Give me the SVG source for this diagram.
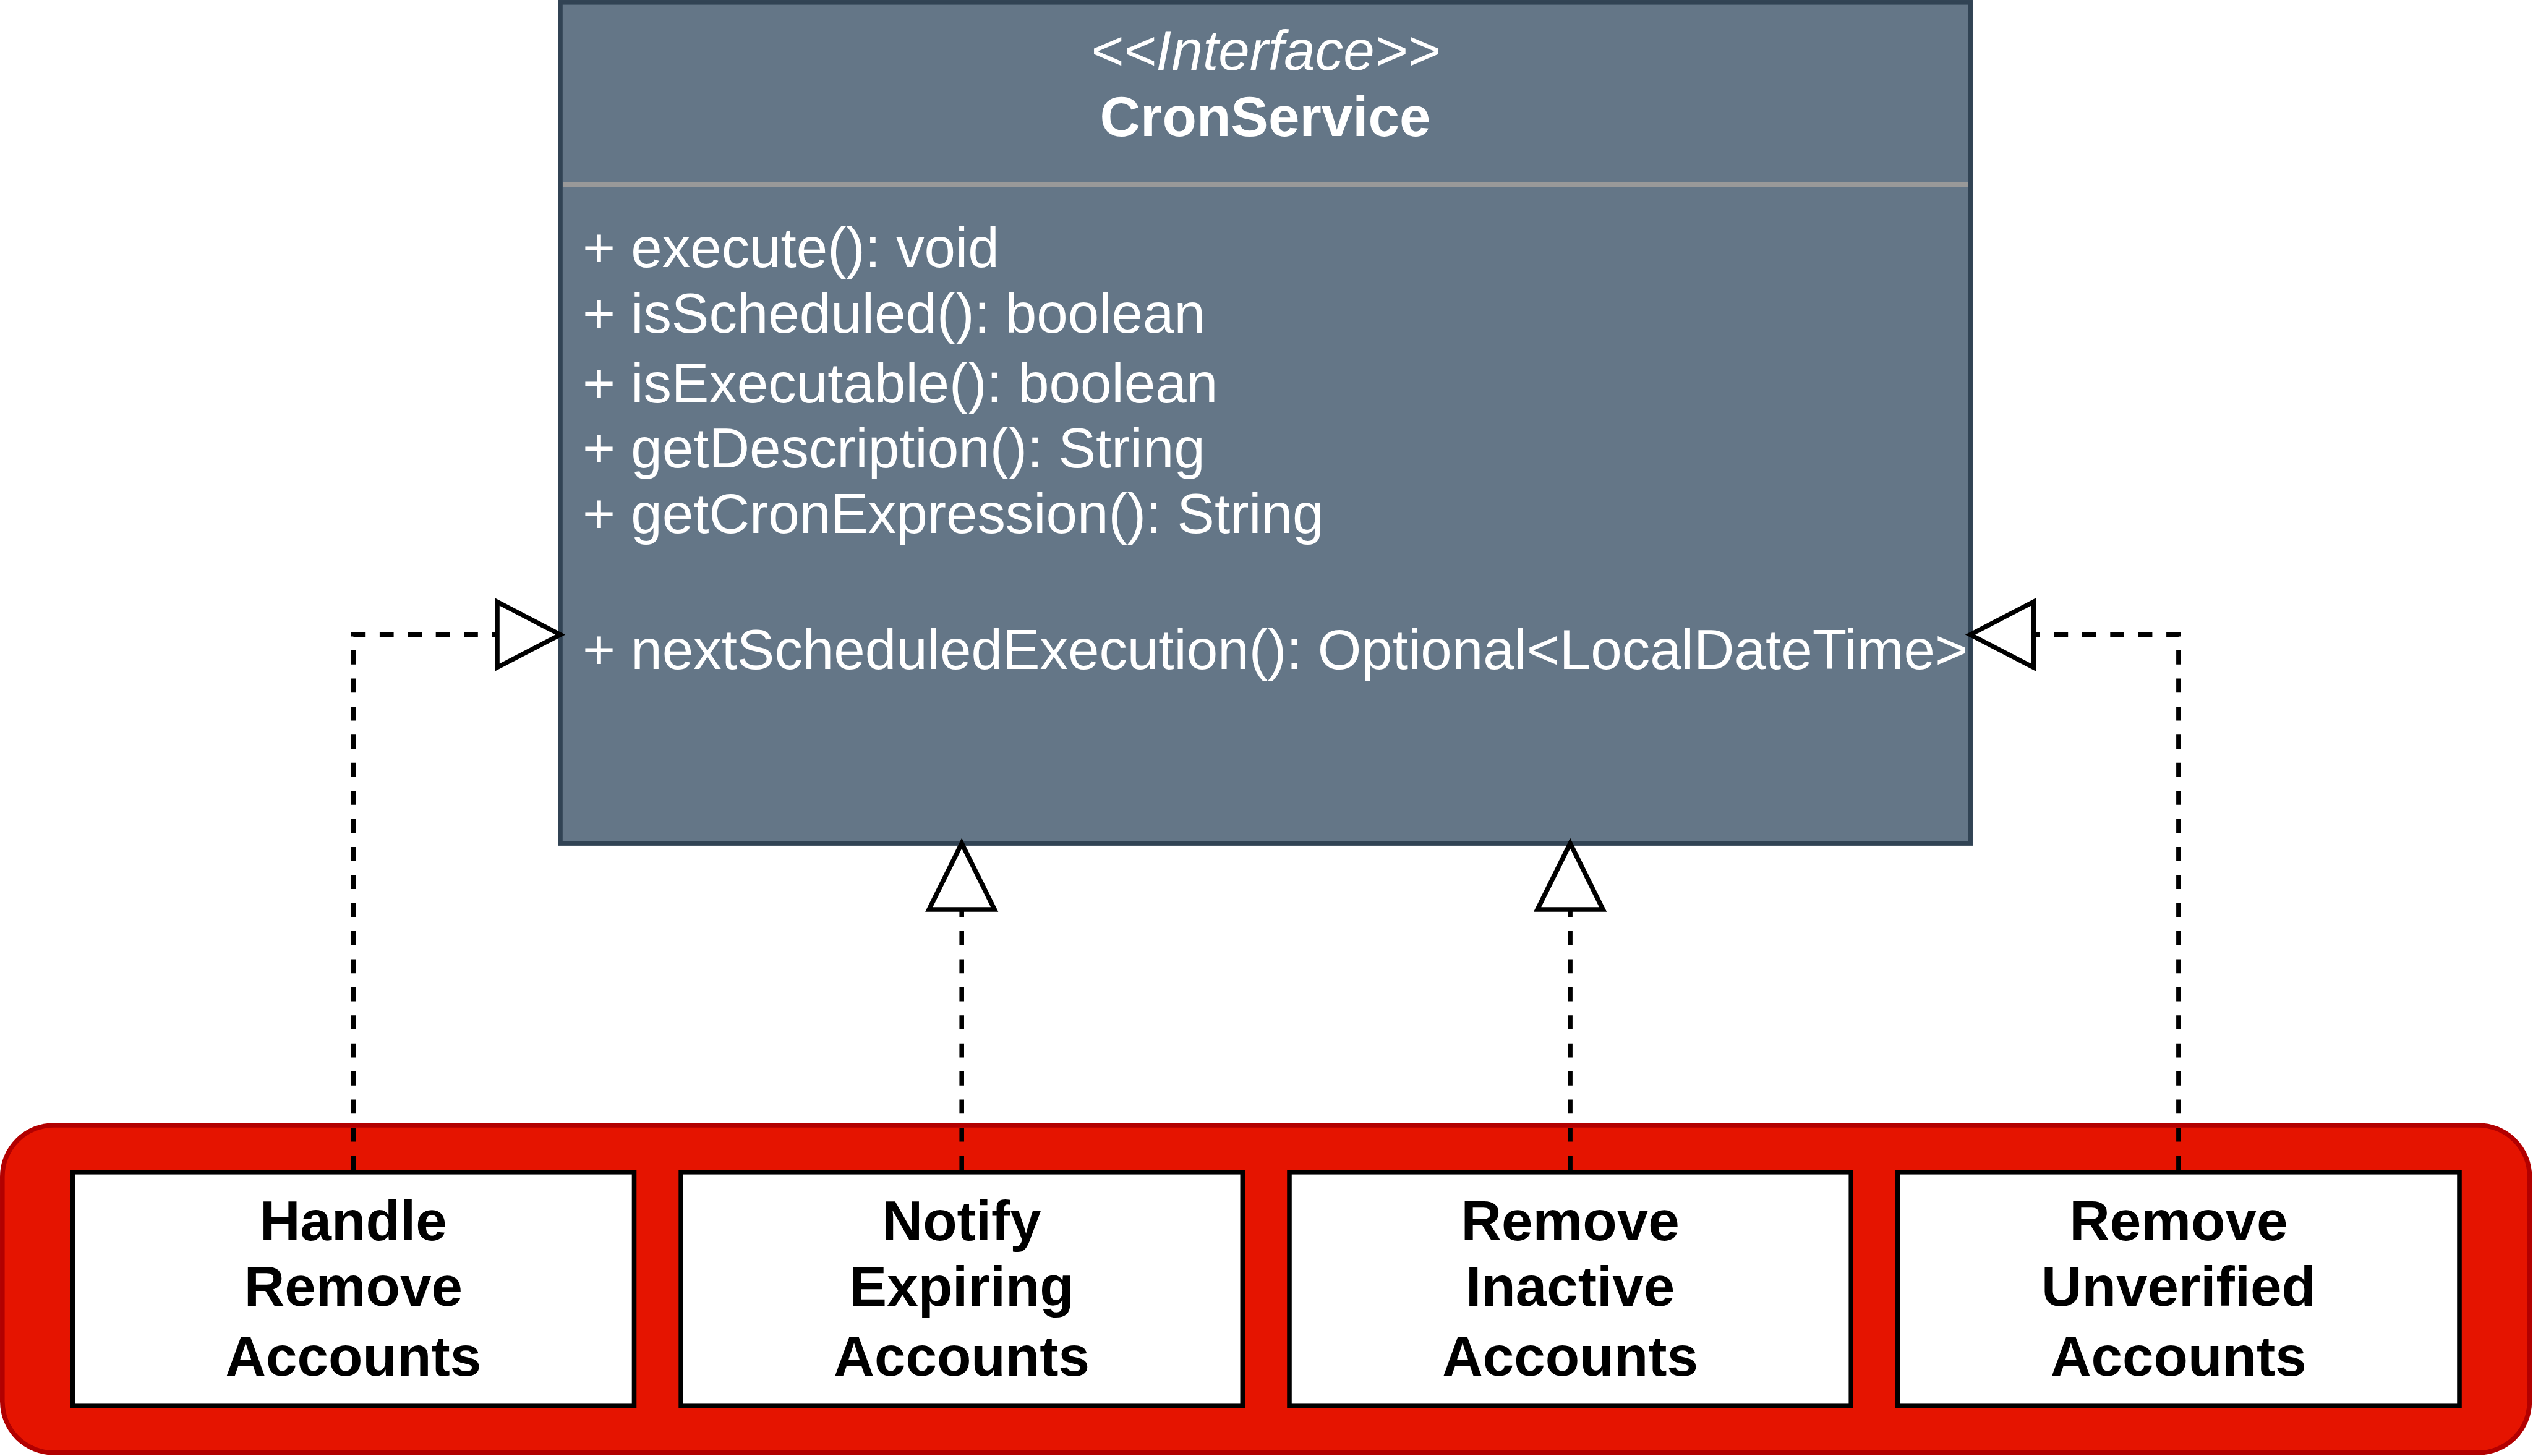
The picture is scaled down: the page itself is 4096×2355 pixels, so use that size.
<svg xmlns="http://www.w3.org/2000/svg" width="4096" height="2355" viewBox="0 0 4096 2355">
<style>
.t{font-family:"Liberation Sans",Arial,Helvetica,sans-serif;font-size:90.8px}
.w{fill:#ffffff}
.b{fill:#000000;font-weight:bold;text-anchor:middle}
.box{fill:#ffffff;stroke:#000000;stroke-width:7.57}
.edge{fill:none;stroke:#000000;stroke-width:7.57;stroke-dasharray:22.7 22.7}
.head{fill:#ffffff;stroke:#000000;stroke-width:7.57;stroke-linejoin:miter}
</style>
<rect x="0" y="0" width="4096" height="2355" fill="#ffffff"/>
<g id="group">
<rect x="3.8" y="1820" width="4086.7" height="529.8" rx="83" ry="83" fill="#e51400" stroke="#b20000" stroke-width="7.57"/>
</g>
<g id="cronservice">
<rect x="906" y="3.8" width="2280.2" height="1360.3" fill="#647687" stroke="#314354" stroke-width="7.57"/>
<line x1="910" y1="298.9" x2="3182" y2="298.9" stroke="#999999" stroke-width="7.57"/>
<text class="t w" x="2046" y="112.5" text-anchor="middle" font-style="italic">&lt;&lt;Interface&gt;&gt;</text>
<text class="t w" x="2046" y="220" text-anchor="middle" font-weight="bold">CronService</text>
<text class="t w" x="942" y="431.5">+ execute(): void</text>
<text class="t w" x="942" y="537.5">+ isScheduled(): boolean</text>
<text class="t w" x="942" y="651">+ isExecutable(): boolean</text>
<text class="t w" x="942" y="756">+ getDescription(): String</text>
<text class="t w" x="942" y="862">+ getCronExpression(): String</text>
<text class="t w" x="942" y="1082">+ nextScheduledExecution(): Optional&lt;LocalDateTime&gt;</text>
</g>
<g id="handle">
<rect class="box" x="117.3" y="1895.8" width="908.2" height="378.4"/>
<text class="t b" x="571.4" y="2005.5">Handle</text>
<text class="t b" x="571.4" y="2111.5">Remove</text>
<text class="t b" x="571.4" y="2225">Accounts</text>
</g>
<g id="notify">
<rect class="box" x="1101.1" y="1895.8" width="908.2" height="378.4"/>
<text class="t b" x="1555.2" y="2005.5">Notify</text>
<text class="t b" x="1555.2" y="2111.5">Expiring</text>
<text class="t b" x="1555.2" y="2225">Accounts</text>
</g>
<g id="inactive">
<rect class="box" x="2085" y="1895.8" width="908.2" height="378.4"/>
<text class="t b" x="2539.1" y="2005.5">Remove</text>
<text class="t b" x="2539.1" y="2111.5">Inactive</text>
<text class="t b" x="2539.1" y="2225">Accounts</text>
</g>
<g id="unverified">
<rect class="box" x="3068.8" y="1895.8" width="908.2" height="378.4"/>
<text class="t b" x="3522.9" y="2005.5">Remove</text>
<text class="t b" x="3522.9" y="2111.5">Unverified</text>
<text class="t b" x="3522.9" y="2225">Accounts</text>
</g>
<g id="connectors">
<path class="edge" d="M571.4 1892 V1026.5 H804"/>
<polygon class="head" points="906,1026.5 804,973.5 804,1079.5"/>
<path class="edge" d="M1555.2 1892 V1471"/>
<polygon class="head" points="1555.2,1364 1502.2,1471 1608.2,1471"/>
<path class="edge" d="M2539.1 1892 V1471"/>
<polygon class="head" points="2539.1,1364 2486.1,1471 2592.1,1471"/>
<path class="edge" d="M3522.9 1892 V1026.5 H3288.3"/>
<polygon class="head" points="3186.1,1026.5 3288.3,973.5 3288.3,1079.5"/>
</g>
</svg>
